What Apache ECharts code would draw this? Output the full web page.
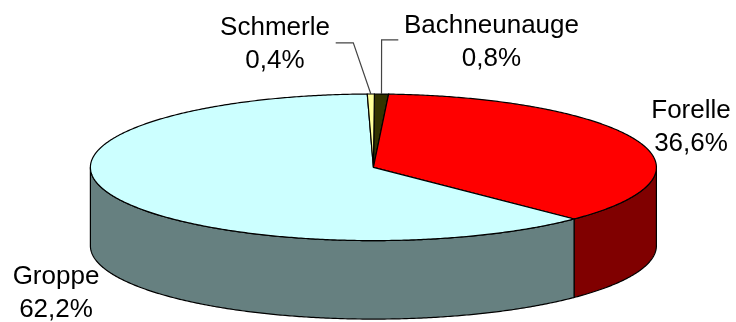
<!DOCTYPE html>
<html>
<head>
<meta charset="utf-8">
<style>html,body{margin:0;padding:0;background:#fff}#chart{width:736px;height:322px}</style>
<script src="https://cdn.jsdelivr.net/npm/echarts@6/dist/echarts.min.js"></script>
</head>
<body>
<div id="chart"></div>
<script>
// Fish species share, clockwise from twelve o'clock
const species = ['Bachneunauge', 'Forelle', 'Groppe', 'Schmerle'];
const shares = [0.8, 36.6, 62.2, 0.4];

// Slice styling
const topColors = ['#333300', '#FF0000', '#CCFFFF', '#FFFF99'];
const sideColors = ['#1A1A00', '#800000', '#668080', '#808050'];

// Label centre per slice; leader is an optional elbow from beside the label down to the rim
const labelCentres = [[491.5, 42], [691, 127], [56, 293], [275, 44.5]];
const leaderElbows = [[[398.3, 39.8], [381.6, 39.8]], null, null, [[335.7, 42.8], [353.3, 42.8]]];

// Disc projection
const disc = { cx: 373.4, cy: 167.3, rx: 283, ry: 73.3, depth: 78.5, start: 0.2 };

const total = shares.reduce((a, b) => a + b, 0);
const rad = d => d * Math.PI / 180;
const rim = (deg, drop) => [
  disc.cx + disc.rx * Math.sin(rad(deg)),
  disc.cy - disc.ry * Math.cos(rad(deg)) + (drop || 0)
];
function arc(from, to, drop) {
  const pts = [];
  const n = Math.max(2, Math.ceil((to - from) * 2));
  for (let i = 0; i <= n; i++) pts.push(rim(from + (to - from) * i / n, drop));
  return pts;
}
const percent = v => v.toFixed(1).replace('.', ',') + '%';

function renderSlice(params, api) {
  const idx = params.dataIndex;
  let before = 0;
  for (let i = 0; i < idx; i++) before += shares[i];
  const a0 = disc.start + before / total * 360;
  const a1 = a0 + api.value(0) / total * 360;
  const children = [];

  // Outer wall: only the part facing the viewer, between 90° and 270°
  const w0 = Math.max(a0, 90), w1 = Math.min(a1, 270);
  if (w1 > w0) {
    children.push({
      type: 'polygon',
      shape: { points: arc(w0, w1, 0).concat(arc(w0, w1, disc.depth).reverse()) },
      style: { fill: sideColors[idx], stroke: '#000', lineWidth: 1.2 }
    });
  }
  // Top face
  children.push({
    type: 'polygon',
    shape: { points: [[disc.cx, disc.cy]].concat(arc(a0, a1, 0)) },
    style: { fill: topColors[idx], stroke: '#000', lineWidth: 1.2 }
  });
  // Leader line
  if (leaderElbows[idx]) {
    const mid = (a0 + a1) / 2;
    children.push({
      type: 'polyline',
      shape: { points: leaderElbows[idx].concat([rim(mid)]) },
      style: { fill: null, stroke: '#444', lineWidth: 1.2 }
    });
  }
  // Two-line label
  children.push({
    type: 'text',
    z2: 10,
    style: {
      x: labelCentres[idx][0],
      y: labelCentres[idx][1],
      text: species[idx] + '\n' + percent(api.value(0)),
      align: 'center',
      verticalAlign: 'middle',
      fill: '#000',
      font: '26px "Liberation Sans", Arial, sans-serif',
      lineHeight: 33
    }
  });
  return { type: 'group', children };
}

const chart = echarts.init(document.getElementById('chart'), null, { renderer: 'canvas' });
chart.setOption({
  backgroundColor: '#fff',
  animation: false,
  series: [{
    type: 'custom',
    coordinateSystem: 'none',
    silent: true,
    clip: false,
    renderItem: renderSlice,
    data: shares.map(v => [v])
  }]
});
</script>
</body>
</html>
